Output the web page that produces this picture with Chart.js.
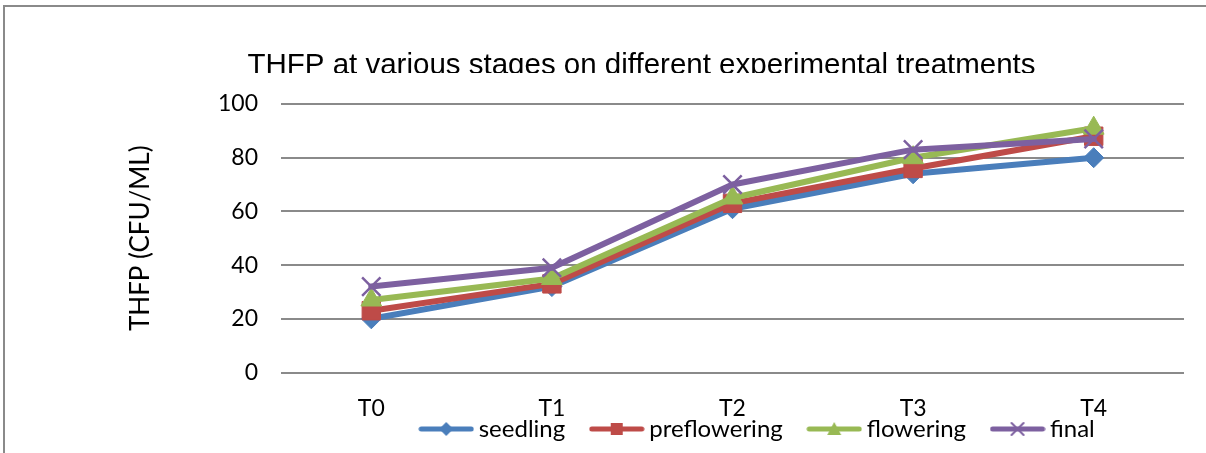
<!DOCTYPE html>
<html lang="en">
<head>
    <meta charset="UTF-8">
    <title>THFP at various stages</title>
    <style>
        html, body { margin: 0; padding: 0; background: #fff; overflow: hidden; }
        #thfpChart { display: block; }
    </style>
</head>
<body>
    <canvas id="thfpChart" width="1206" height="453"></canvas>
    <script src="https://cdn.jsdelivr.net/npm/chart.js"></script>
    <script>
    const treatments = ['T0', 'T1', 'T2', 'T3', 'T4'];
    const seedling = [20, 32, 61, 74, 80];
    const preflowering = [23, 33, 63, 76, 88];
    const flowering = [27, 35, 65, 80, 91];
    const finalStage = [32, 39, 70, 83, 87];
    const yTicks = [0, 20, 40, 60, 80, 100];

    const chartTitle = 'THFP at various stages on different experimental treatments';
    const yTitle = 'THFP (CFU/ML)';

    const blue = '#4A7EBB';
    const red = '#BE4B48';
    const green = '#98B954';
    const purple = '#7D60A0';

    // little line + marker swatch for the legend
    function legendSwatch(color, marker) {
        const c = document.createElement('canvas');
        c.width = 56;
        c.height = 22;
        const g = c.getContext('2d');
        g.strokeStyle = color;
        g.fillStyle = color;
        g.lineWidth = 5;
        g.lineCap = 'round';
        g.beginPath();
        g.moveTo(3, 11);
        g.lineTo(53, 11);
        g.stroke();
        g.beginPath();
        if (marker === 'diamond') {
            g.moveTo(28, 4); g.lineTo(35, 11); g.lineTo(28, 18); g.lineTo(21, 11);
            g.closePath(); g.fill();
        } else if (marker === 'square') {
            g.fillRect(22, 5, 12, 12);
        } else if (marker === 'triangle') {
            g.moveTo(28, 4); g.lineTo(35, 17); g.lineTo(21, 17);
            g.closePath(); g.fill();
        } else {
            g.lineWidth = 2;
            g.moveTo(22, 5); g.lineTo(34, 17);
            g.moveTo(34, 5); g.lineTo(22, 17);
            g.stroke();
        }
        return c;
    }

    const swatches = [
        legendSwatch(blue, 'diamond'),
        legendSwatch(red, 'square'),
        legendSwatch(green, 'triangle'),
        legendSwatch(purple, 'cross')
    ];

    function series(label, data, color, pointStyle, radius, order) {
        return {
            label: label,
            data: data,
            borderColor: color,
            backgroundColor: color,
            borderWidth: 6,
            borderJoinStyle: 'round',
            borderCapStyle: 'round',
            pointStyle: pointStyle,
            pointRadius: radius,
            pointHoverRadius: radius,
            pointBorderWidth: pointStyle === 'crossRot' ? 2.5 : 1,
            tension: 0,
            order: order
        };
    }

    // outer frame, box nudges and the cut-off title edge
    const framePlugin = {
        id: 'frame',
        beforeDraw(chart) {
            const ctx = chart.ctx;
            ctx.save();
            ctx.strokeStyle = '#8a8a8a';
            ctx.lineWidth = 2;
            ctx.beginPath();
            ctx.moveTo(4, 453);
            ctx.lineTo(4, 6);
            ctx.lineTo(1206, 6);
            ctx.stroke();
            ctx.restore();
        },
        afterLayout(chart) {
            chart.legend.left = 336.5;
            chart.titleBlock.left = 99;
            const x = chart.scales.x;
            x.bottom = x.top + 50;
            x.height = 50;
        },
        afterDraw(chart) {
            const ctx = chart.ctx;
            ctx.save();
            ctx.fillStyle = '#fff';
            ctx.fillRect(230, 73, 830, 21);
            ctx.restore();
        }
    };

    new Chart(document.getElementById('thfpChart'), {
        type: 'line',
        data: {
            labels: treatments,
            datasets: [
                series('seedling', seedling, blue, 'rectRot', 10, 4),
                series('preflowering', preflowering, red, 'rect', 13, 3),
                series('flowering', flowering, green, 'triangle', 12, 2),
                series('final', finalStage, purple, 'crossRot', 13, 1)
            ]
        },
        options: {
            responsive: false,
            animation: false,
            events: [],
            layout: { padding: { left: 125, right: 22, top: 0, bottom: 2 } },
            plugins: {
                title: {
                    display: true,
                    text: chartTitle,
                    color: '#000',
                    font: { family: '"Liberation Sans", Arial, sans-serif', size: 29.5, weight: 'normal' },
                    padding: { top: 48.3, bottom: 20.3 }
                },
                legend: {
                    position: 'bottom',
                    align: 'center',
                    labels: {
                        usePointStyle: true,
                        pointStyleWidth: 41,
                        padding: 31,
                        color: '#000',
                        font: { family: 'Lato, sans-serif', size: 24 },
                        sort: (a, b) => a.datasetIndex - b.datasetIndex,
                        generateLabels(chart) {
                            return chart.data.datasets.map((ds, i) => ({
                                text: ds.label,
                                pointStyle: swatches[i],
                                fillStyle: ds.borderColor,
                                strokeStyle: ds.borderColor,
                                lineWidth: 0,
                                datasetIndex: i
                            }));
                        }
                    }
                },
                tooltip: { enabled: false }
            },
            scales: {
                x: {
                    offset: true,
                    grid: { display: false, drawTicks: false, offset: true },
                    border: { display: false },
                    ticks: {
                        padding: 22,
                        color: '#000',
                        font: { family: 'Lato, sans-serif', size: 23 }
                    },
                    afterFit(scale) { scale.height = 13.5; }
                },
                y: {
                    min: 0,
                    max: 100,
                    afterBuildTicks(scale) { scale.ticks = yTicks.map(v => ({ value: v })); },
                    grid: { color: '#8a8a8a', lineWidth: 2, drawTicks: false },
                    border: { display: false },
                    ticks: {
                        padding: 23,
                        color: '#000',
                        font: { family: 'Lato, sans-serif', size: 23 }
                    },
                    title: {
                        display: true,
                        text: yTitle,
                        color: '#000',
                        padding: 0,
                        font: { family: 'Lato, sans-serif', size: 26 }
                    },
                    afterFit(scale) { scale.width = 156; }
                }
            }
        },
        plugins: [framePlugin]
    });
    </script>
</body>
</html>
